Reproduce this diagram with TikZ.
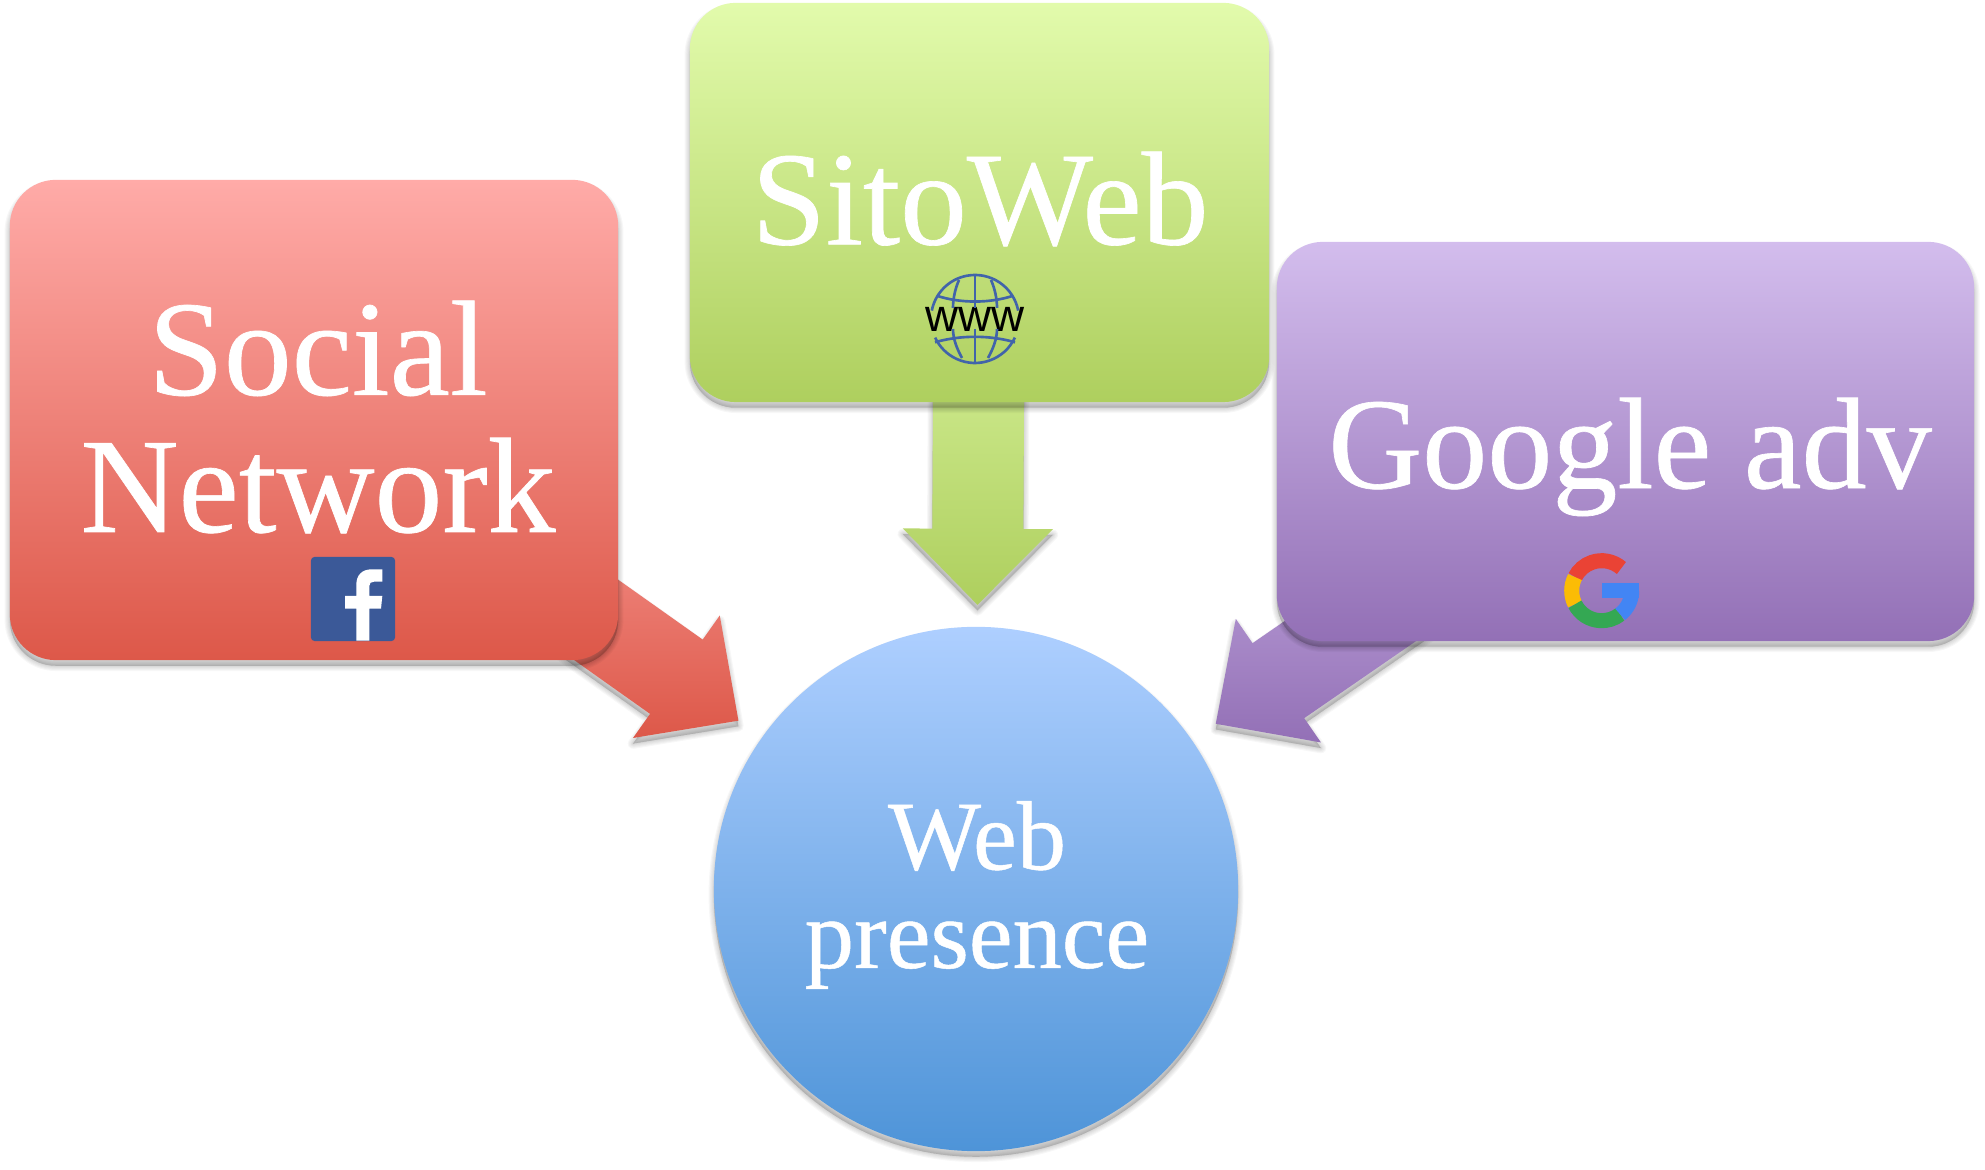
\documentclass[tikz,border=0pt]{standalone}
\usepackage{fontspec}
\setmainfont{Liberation Serif}
\newfontfamily\cardfont[FakeBold=0.5]{Liberation Serif}
\newfontfamily\wwwfont{Liberation Sans}
\usetikzlibrary{calc,backgrounds}
\definecolor{globeblue}{RGB}{65,100,170}
\definecolor{fbblue}{RGB}{59,89,152}
\definecolor{gred}{RGB}{234,67,53}
\definecolor{gyellow}{RGB}{251,188,5}
\definecolor{ggreen}{RGB}{52,168,83}
\definecolor{gblue}{RGB}{66,133,244}
\tikzset{
	softlayer/.style={preaction={draw=black,fill=black,opacity=0.03,line width=#1,line join=round,transform canvas={yshift=-1.6pt}}},
	softshadow/.style={softlayer=3.0pt,softlayer=2.4pt,softlayer=1.8pt,softlayer=1.2pt,softlayer=0.7pt,softlayer=0.2pt},
	redfill/.style={top color={rgb,255:red,255;green,171;blue,168},bottom color={rgb,255:red,221;green,88;blue,73}},
	greenfill/.style={top color={rgb,255:red,226;green,251;blue,172},bottom color={rgb,255:red,174;green,207;blue,94}},
	purplefill/.style={top color={rgb,255:red,211;green,189;blue,237},bottom color={rgb,255:red,147;green,112;blue,182}},
	bluefill/.style={top color={rgb,255:red,174;green,207;blue,255},bottom color={rgb,255:red,78;green,148;blue,216}},
	cardbox/.style={rectangle,rounded corners=0.46cm,inner sep=0pt,softshadow},
	cardtext/.style={text=white,align=center,inner sep=0pt,font=\cardfont\fontsize{38}{39}\selectfont},
	globeline/.style={draw=globeblue,line width=0.75pt},
	gring/.style={line width=0.15cm}
}
\def\blockarrow[#1](#2)(#3){
	\coordinate (neck) at ($(#3)!0.76cm!(#2)$);
	\path[softshadow,#1] ($(#2)!0.455cm!90:(#3)$) -- ($(neck)!0.455cm!90:(#3)$) -- ($(neck)!0.75cm!90:(#3)$) -- (#3)
		-- ($(neck)!0.75cm!-90:(#3)$) -- ($(neck)!0.455cm!-90:(#3)$) -- ($(#2)!0.455cm!-90:(#3)$) -- cycle;
}

\begin{document}
\begin{tikzpicture}[x=0.01cm,y=0.01cm]
		%%%%% START %%%%%
		\useasboundingbox (0, 0) rectangle (1985, 1170);
		
		\node[cardbox, redfill, minimum width=6.08cm, minimum height=4.8cm] (social) at (314, 750) {};
		\node[cardbox, greenfill, minimum width=5.79cm, minimum height=3.99cm] (sito) at (979.5, 967.5) {};
		\node[cardbox, purplefill, minimum width=6.97cm, minimum height=3.99cm] (google) at (1625.5, 728.5) {};
		\node[circle, bluefill, softshadow, minimum size=5.24cm, inner sep=0pt] (web) at (976, 281) {};
		
		\coordinate (socialtip) at ($(web)!2.91cm!(social)$);
		\coordinate (sitotip) at ($(web)!2.84cm!(sito)$);
		\coordinate (googletip) at ($(web)!2.91cm!(google)$);
		
		\begin{scope}[on background layer]
			\blockarrow[redfill](social)(socialtip);
			\blockarrow[greenfill](sito)(sitotip);
			\blockarrow[purplefill](google)(googletip);
		\end{scope}
		
		\node[cardtext, font=\cardfont\fontsize{38.6}{39}\selectfont] (socialtext) at (318, 753) {Social\\Network};
		\node[cardtext] (sitotext) at (980, 971) {SitoWeb};
		\node[cardtext, font=\cardfont\fontsize{37}{39}\selectfont] (googletext) at (1630, 713) {Google adv};
		\node[cardtext, font=\cardfont\fontsize{28}{28}\selectfont] (webtext) at (977, 275) {Web\\presence};
		
		%%%%% ICONS %%%%%
		\node[rectangle, fill=fbblue, rounded corners=1pt, minimum size=0.84cm, inner sep=0pt] (fbicon) at (353, 571) {};
		\fill[white] (356.3, 529.3) -- (369.3, 529.3) -- (369.3, 561.3) -- (381, 561.3) -- (382.3, 574) -- (369.3, 574) -- (369.3, 584)
			.. controls (369.3, 587) and (371, 588.3) .. (374, 588.3) -- (382.3, 588.3) -- (382.3, 600.5) -- (372, 600.7)
			.. controls (362, 600.7) and (356.3, 595) .. (356.3, 585) -- (356.3, 574) -- (345, 574) -- (345, 561.3) -- (356.3, 561.3) -- cycle;
		
		\node[inner sep=0pt, font=\wwwfont\fontsize{13}{13}\selectfont] (globe) at (975, 851) {www};
		\begin{scope}[shift={(globe)}]
			\draw[globeline] (11:44) arc (11:169:44);
			\draw[globeline] (-25:44) arc (-25:-155:44);
			\draw[globeline] (0, 44) -- (0, 11);
			\draw[globeline] (0, -44) -- (0, -10);
			\draw[globeline] (-38.3, 23.3) .. controls (-15, 15.5) and (15, 15.5) .. (38.3, 23.3);
			\draw[globeline] (-40, -23.3) .. controls (-15, -16) and (15, -16) .. (40, -23.3);
			\foreach \s in {-1, 1} {
				\draw[globeline] (\s*16, 39) .. controls (\s*20, 30) and (\s*22, 20) .. (\s*22, 11);
				\draw[globeline] (\s*22, -10) .. controls (\s*22, -20) and (\s*18, -30) .. (\s*13, -39);
			}
		\end{scope}
		
		\coordinate (gicon) at (1601.7, 579.3);
		\begin{scope}[shift={(gicon)}]
			\foreach \c/\a/\b in {gred/49/153, gyellow/153/207, ggreen/207/308, gblue/308/360}
				\draw[\c, gring] (\a:30) arc (\a:\b:30);
			\fill[gblue] (0, -7.7) rectangle (37, 7.3);
		\end{scope}
		%%%%% END %%%%%
	\end{tikzpicture}
\end{document}
